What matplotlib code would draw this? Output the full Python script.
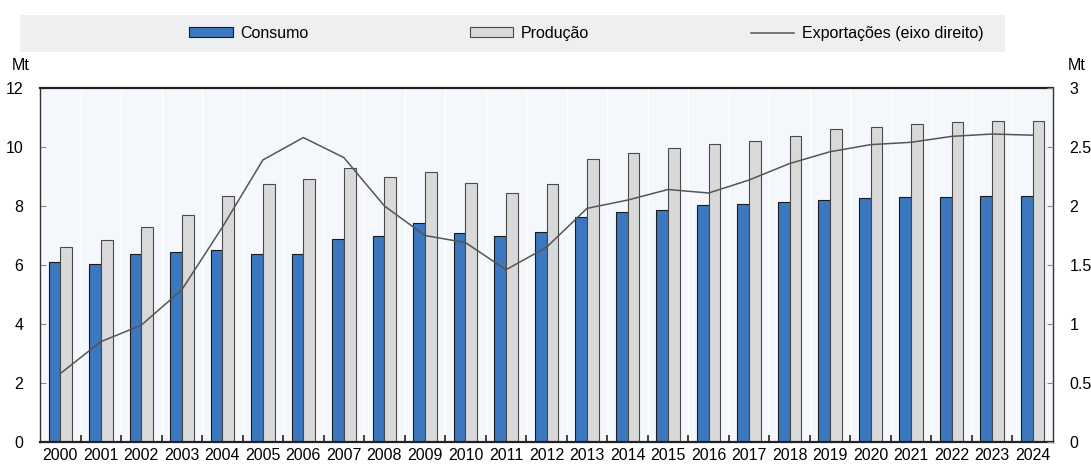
import numpy as np
import matplotlib
matplotlib.use('Agg')
import matplotlib.pyplot as plt
from matplotlib.patches import Rectangle

plt.rcParams['font.family'] = ['Liberation Sans Narrow', 'Liberation Sans', 'DejaVu Sans']

years = [str(y) for y in range(2000, 2025)]
consumo = [6.10, 6.03, 6.37, 6.44, 6.50, 6.37, 6.37, 6.88, 7.00, 7.42, 7.08, 6.98, 7.12,
           7.63, 7.80, 7.86, 8.03, 8.07, 8.13, 8.20, 8.27, 8.30, 8.30, 8.34, 8.34]
producao = [6.60, 6.85, 7.29, 7.70, 8.34, 8.75, 8.92, 9.29, 8.98, 9.15, 8.78, 8.44, 8.75,
            9.59, 9.80, 9.97, 10.10, 10.20, 10.37, 10.60, 10.68, 10.78, 10.85, 10.88, 10.88]
exportacoes = [0.58, 0.85, 0.99, 1.29, 1.82, 2.39, 2.58, 2.41, 2.00, 1.75, 1.69, 1.46, 1.65,
               1.98, 2.05, 2.14, 2.11, 2.22, 2.36, 2.46, 2.52, 2.54, 2.59, 2.61, 2.60]

fig = plt.figure(figsize=(10.91, 4.65), dpi=100)
ax = fig.add_axes([40/1091, 1 - 442/465, 1013/1091, 354/465])
ax.set_facecolor('#f4f8fc')

x = np.arange(len(years))
w = 0.29
b1 = ax.bar(x - w/2, consumo, w, color='#3b78bf', edgecolor='#1a1a1a', linewidth=0.8, label='Consumo', zorder=2)
b2 = ax.bar(x + w/2, producao, w, color='#d9d9d9', edgecolor='#4a4a4a', linewidth=0.8, label='Produção', zorder=2)

ax.set_xlim(-0.5, len(years) - 0.5)
ax.set_ylim(0, 12)
ax.set_yticks([0, 2, 4, 6, 8, 10, 12])
ax.set_xticks(x)
ax.set_xticklabels(years)
ax.set_xticks(x[:-1] + 0.5, minor=True)
ax.tick_params(axis='x', which='major', length=0, labelsize=11.5, pad=4)
ax.tick_params(axis='x', which='minor', direction='in', length=5, width=1.2, color='#222')
ax.tick_params(axis='y', direction='in', length=4, labelsize=11.5, pad=12, color='#888')
ax.grid(axis='x', which='minor', color='white', linewidth=1.0, zorder=0)

for s in ['top', 'bottom']:
    ax.spines[s].set_linewidth(1.6)
    ax.spines[s].set_color('#222')
for s in ['left', 'right']:
    ax.spines[s].set_linewidth(1.0)
    ax.spines[s].set_color('#333')

ax2 = ax.twinx()
l1, = ax2.plot(x, exportacoes, color='#555555', linewidth=1.1, label='Exportações (eixo direito)', zorder=3)
ax2.set_ylim(0, 3)
ax2.set_yticks([0, 0.5, 1, 1.5, 2, 2.5, 3])
ax2.set_yticklabels(['0', '0.5', '1', '1.5', '2', '2.5', '3'])
ax2.tick_params(axis='y', direction='in', length=4, labelsize=11.5, pad=12, color='#888')
for s in ax2.spines.values():
    s.set_visible(False)

fig.text(12/1091, 1 - 65/465, 'Mt', fontsize=11.5, va='center', ha='left')
fig.text(1068/1091, 1 - 65/465, 'Mt', fontsize=11.5, va='center', ha='left')

# legend band
fig.patches.append(Rectangle((20/1091, 1 - 52/465), 985/1091, 37/465, transform=fig.transFigure,
                             facecolor='#eeeff0', edgecolor='none', zorder=0))
fig.legend([b1, b2, l1], ['Consumo', 'Produção', 'Exportações (eixo direito)'],
           loc='center left', bbox_to_anchor=(175/1091, 1 - 33.5/465), ncol=3, frameon=False,
           fontsize=11.5, handlelength=2.7, handleheight=0.6, columnspacing=10.1, handletextpad=0.5)

fig.savefig('out.png', dpi=100)
